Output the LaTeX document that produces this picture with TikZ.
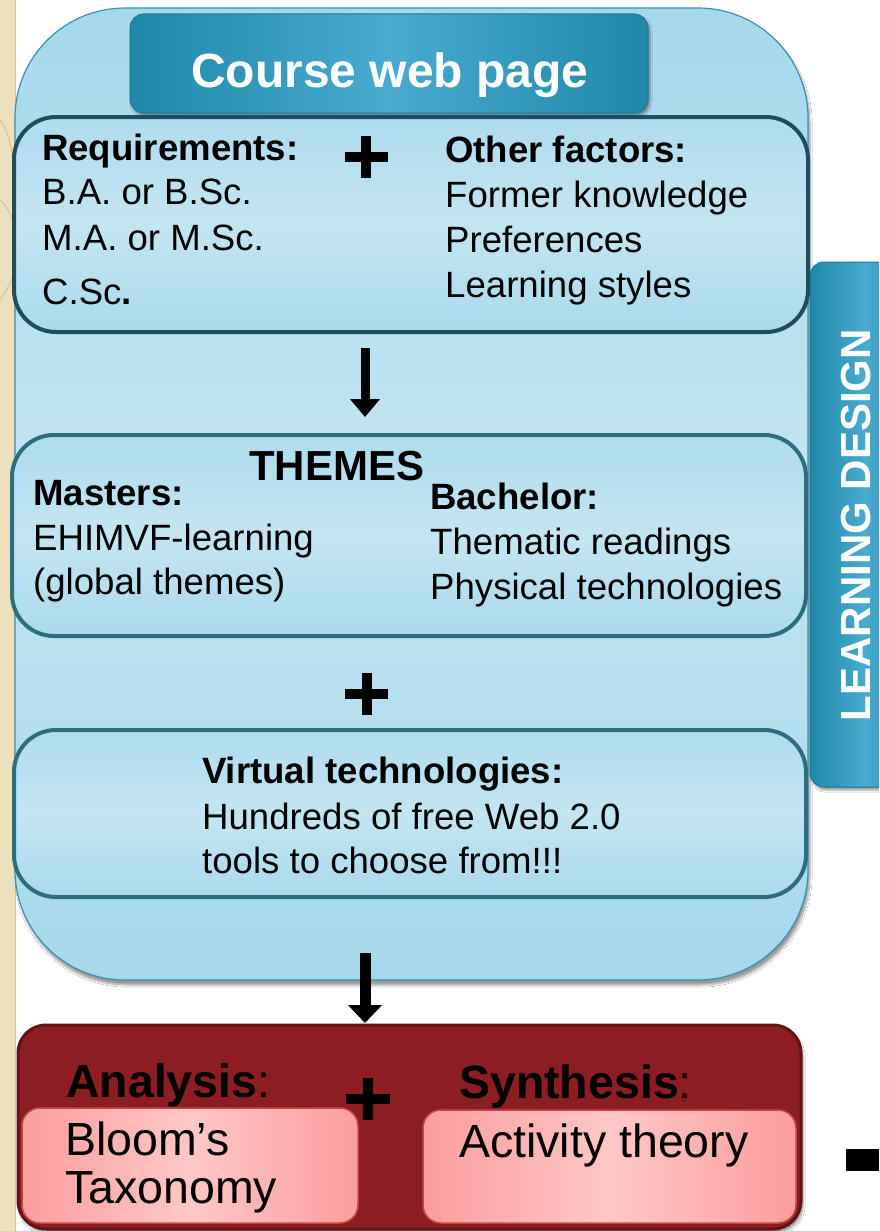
\documentclass[tikz,border=0pt]{standalone}
\usepackage{fontspec}
\setmainfont{Liberation Sans}
\usetikzlibrary{arrows.meta,shadows.blur}
\definecolor{beige}{HTML}{EDE0BD}
\definecolor{beigeline}{HTML}{D6C394}
\definecolor{skyA}{HTML}{A6D8EC}
\definecolor{skyB}{HTML}{C3E5F2}
\definecolor{skyEdge}{HTML}{3A90B0}
\definecolor{tealA}{HTML}{1F88A9}
\definecolor{tealB}{HTML}{48ABCF}
\definecolor{tealEdge}{HTML}{1C7896}
\definecolor{darkEdge}{HTML}{1F4D5D}
\definecolor{midEdge}{HTML}{2C6E7F}
\definecolor{wine}{HTML}{8C1E23}
\definecolor{wineEdge}{HTML}{621316}
\definecolor{pinkA}{HTML}{FB9D9D}
\definecolor{pinkB}{HTML}{FFC7C7}
\definecolor{pinkEdge}{HTML}{C24848}
\begin{document}
\begin{tikzpicture}[x=1pt,y=-1pt,
  box/.style={anchor=north west, inner sep=0pt, outer sep=0pt},
  panel/.style={box, draw=#1, line width=4pt, rounded corners=42pt,
    top color=skyA!90!white, bottom color=skyA!95!white, middle color=skyB},
  tealbox/.style={box, draw=tealEdge, line width=1pt, rounded corners=14pt,
    left color=tealA, right color=tealA, middle color=tealB,
    blur shadow={shadow xshift=2pt, shadow yshift=-3pt, shadow blur steps=6}},
  pinkbox/.style={box, draw=pinkEdge, line width=1.5pt, rounded corners=18pt,
    left color=pinkA, right color=pinkA, middle color=pinkB},
  txt/.style={anchor=base west, inner sep=0pt, font=\fontsize{36.6}{43}\selectfont},
  txtb/.style={anchor=base west, inner sep=0pt, font=\fontsize{36.6}{43}\selectfont\bfseries},
  bigt/.style={anchor=base west, inner sep=0pt, font=\fontsize{46.5}{54}\selectfont},
  arrowline/.style={line width=#1, draw=black},
]
\useasboundingbox (0,0) rectangle (879,1231);
\clip (0,0) rectangle (879,1231);
\fill[white] (0,0) rectangle (879,1231);

% decorative left strip
\fill[beige] (0,0) rectangle (15,1231);
\draw[beigeline, line width=1pt] (15,0) -- (15,1231);
\draw[beigeline, line width=1pt] (0,120) .. controls (8,130) and (12,150) .. (15,170);
\draw[beigeline, line width=1pt] (0,200) .. controls (6,205) and (11,215) .. (15,225);
\draw[beigeline, line width=1pt] (0,300) .. controls (7,290) and (12,280) .. (15,270);

% main light-blue container
\node[box, minimum width=793pt, minimum height=972pt, draw=skyEdge, line width=1.2pt,
  rounded corners=110pt, top color=skyA, bottom color=skyA, middle color=skyB,
  blur shadow={shadow xshift=2pt, shadow yshift=-5pt, shadow blur steps=8}]
  (main) at (15,8) {};

% learning design tab
\node[tealbox, minimum width=110pt, minimum height=525pt] (tab) at (810,262) {};
\node[anchor=base, inner sep=0pt, rotate=90, text=white,
  font=\fontsize{42}{48}\selectfont\bfseries] (tabtxt) at (870,525) {LEARNING DESIGN};

% title
\node[tealbox, minimum width=518pt, minimum height=99pt] (title) at (130,14) {};
\node[anchor=base, inner sep=0pt, text=white, font=\fontsize{48}{56}\selectfont\bfseries]
  (titletxt) at (390,87) {Course web page};

% box 1
\node[panel=darkEdge, minimum width=794pt, minimum height=215pt] (b1) at (14,117) {};
\node[txtb] (req) at (42,160) {Requirements:};
\node[txt] (r1) at (42,204) {B.A. or B.Sc.};
\node[txt] (r2) at (42,250) {M.A. or M.Sc.};
\node[txt] (r3) at (42,304) {C.Sc\textbf{.}};
\node[txtb] (oth) at (445,162) {Other factors:};
\node[txt] (o1) at (445,207) {Former knowledge};
\node[txt] (o2) at (445,252) {Preferences};
\node[txt] (o3) at (445,297) {Learning styles};
\fill[black] (345,152) rectangle (388,162);
\fill[black] (361,136) rectangle (371,178);

% arrow 1
\coordinate (a1s) at (365,348);
\coordinate (a1e) at (365,417);
\draw[arrowline=9pt, -{Triangle[width=29pt,length=18pt]}] (a1s) -- (a1e);

% box 2
\node[panel=midEdge, minimum width=794pt, minimum height=201pt] (b2) at (12,435) {};
\node[anchor=base west, inner sep=0pt, font=\fontsize{42}{48}\selectfont\bfseries] (themes) at (249,480) {THEMES};
\node[txtb] (mas) at (33,505) {Masters:};
\node[txt] (m1) at (33,550) {EHIMVF-learning};
\node[txt] (m2) at (33,594) {(global themes)};
\node[txtb] (bac) at (430,509) {Bachelor:};
\node[txt] (bb1) at (430,554) {Thematic readings};
\node[txt] (bb2) at (430,599) {Physical technologies};

% plus 2
\fill[black] (345,689) rectangle (388,699);
\fill[black] (362,673) rectangle (372,715);

% box 3
\node[panel=midEdge, minimum width=792pt, minimum height=167pt] (b3) at (14,730) {};
\node[txtb] (vt) at (202,783) {Virtual technologies:};
\node[txt] (v1) at (202,829) {Hundreds of free Web 2.0};
\node[txt] (v2) at (202,873) {tools to choose from!!!};

% arrow 2
\coordinate (a2s) at (365,953);
\coordinate (a2e) at (365,1023);
\draw[arrowline=11pt, -{Triangle[width=33pt,length=18pt]}] (a2s) -- (a2e);

% red box
\node[box, minimum width=783pt, minimum height=204pt, rounded corners=28pt,
  fill=wine, draw=wineEdge, line width=3pt,
  blur shadow={shadow xshift=2pt, shadow yshift=-4pt, shadow blur steps=6}] (red) at (18,1025) {};
\node[pinkbox, minimum width=336pt, minimum height=115pt] (pl) at (22,1108) {};
\node[pinkbox, minimum width=373pt, minimum height=113pt] (pr) at (423,1110) {};
\node[bigt] (an) at (66,1097) {\textbf{Analysis}:};
\node[bigt] (sy) at (459,1098) {\textbf{Synthesis}:};
\node[bigt] (bl) at (65,1155) {Bloom’s};
\node[bigt] (tx) at (65,1203) {Taxonomy};
\node[bigt] (at) at (459,1157) {Activity theory};
\fill[black] (346,1094) rectangle (390,1104);
\fill[black] (363,1078) rectangle (373,1120);

% black mark bottom right
\fill[black] (846,1149) rectangle (879,1171);
\end{tikzpicture}
\end{document}
